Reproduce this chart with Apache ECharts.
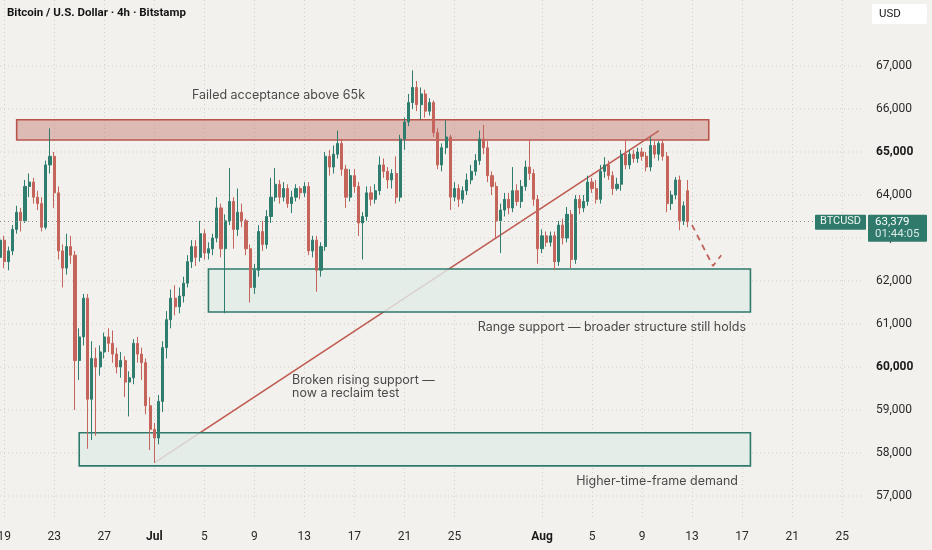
<!DOCTYPE html>
<html>
<head>
<meta charset="utf-8">
<script src="https://cdn.jsdelivr.net/npm/echarts@6/dist/echarts.min.js"></script>
<style>
  html, body { margin: 0; padding: 0; background: #f3f1ed; }
  #main { width: 932px; height: 550px; }
</style>
</head>
<body>
<div id="main"></div>
<script>
// 8h candles, first one at 2024-06-18 16:00 UTC
var candleOpen = [
	62550,62950,62450,62700,63200,63600,63400,64200,64300,63950,
	63800,63250,64700,64900,64050,62700,62300,62800,62600,60150,
	60700,61600,59250,60200,60000,60350,60700,60550,60300,60000,
	60150,59650,59750,60550,60300,60100,59100,58550,58350,59200,
	60450,61100,61600,61400,61650,61950,62450,62800,62550,63100,
	62650,62750,63000,63700,62750,63400,63850,63200,63600,63400,
	62750,61850,62250,63150,62850,63500,63950,64250,63950,64150,
	63800,63950,64150,64050,64200,62700,62950,62250,62800,64900,
	64650,64950,65200,64600,63950,64450,64200,63350,63500,64050,
	63900,64100,64700,64550,64350,64500,63950,65300,65700,66150,
	66500,66100,66350,65950,66150,65450,64700,65100,65350,63950,
	64150,63900,64100,64350,64550,64800,65300,65100,64450,64200,
	63400,63650,63900,63700,64100,63850,64200,64650,64500,63900,
	62750,63050,62900,63050,62450,63300,63000,63550,62500,63900,
	63700,63850,64300,64150,63900,64550,64700,64450,64150,64250,
	64950,64700,64950,64850,65000,64900,64650,65150,64950,65200,
	64900,63800,64000,64350,63400,64100
];
var candleClose = [
	62950,62450,62700,63200,63600,63400,64200,64300,63950,63800,
	63250,64700,64900,64050,62700,62300,62800,62600,60150,60700,
	61600,59250,60200,60000,60350,60700,60550,60300,60000,60150,
	59650,59750,60550,60300,60100,59100,58550,58350,59200,60450,
	61100,61600,61400,61650,61950,62450,62800,62550,63100,62650,
	62750,63000,63700,62750,63400,63850,63200,63600,63400,62750,
	61850,62250,63150,62850,63500,63950,64250,63950,64150,63800,
	63950,64150,64050,64200,62700,62950,62250,62800,64900,64650,
	64950,65200,64600,63950,64450,64200,63350,63500,64050,63900,
	64100,64700,64550,64350,64500,63950,65300,65700,66150,66500,
	66100,66350,65950,66150,65450,64700,65100,65350,63950,64150,
	63900,64100,64350,64550,64800,65300,65100,64450,64200,63400,
	63650,63900,63700,64100,63850,64200,64650,64500,63900,62750,
	63050,62900,63050,62450,63300,63000,63550,62500,63900,63700,
	63850,64300,64150,63900,64550,64700,64450,64150,64250,64950,
	64700,64950,64850,65000,64900,64650,65150,64950,65200,64900,
	63800,64000,64350,63400,63750,63379
];
var candleHigh = [
	63100,63050,62800,63300,63750,63700,64350,64500,64400,64100,
	63950,64800,65550,65000,64200,62850,63100,63050,62700,60900,
	61700,61700,60600,60450,60500,60800,60900,60850,60450,60350,
	60250,59900,60650,60700,60450,60200,59300,58700,59350,60600,
	61300,61800,61900,61850,62100,62600,62950,62950,63400,63200,
	62900,63100,63950,63800,63550,64630,63950,64150,63800,63450,
	62850,62400,63300,63400,63650,64400,64630,64350,64300,64250,
	64100,64250,64200,64300,64300,63050,63050,62900,65000,65050,
	65150,65500,65300,64700,64600,64600,64300,63600,64200,64200,
	64250,64900,64850,64650,64600,64900,65400,65800,66350,66900,
	66650,66500,66450,66250,66200,65550,65200,65740,65400,64300,
	64250,64200,64500,64700,64950,65500,65630,65250,64550,64300,
	63800,64050,64050,64650,64250,64350,64800,65280,64600,64000,
	63200,63150,63150,63150,63400,63450,63720,63650,64000,64000,
	64000,64450,64400,64350,64700,64880,64800,64550,64400,65050,
	65280,65050,65050,65100,65100,65000,65350,65250,65250,65300,
	65000,64100,64420,64450,63850,64350
];
var candleLow = [
	62350,62300,62250,62600,63100,63150,63350,63950,63800,63650,
	63150,63200,64500,63700,62500,61850,62150,62400,59000,59700,
	60500,58100,58300,58400,59800,60200,60350,60100,59850,59750,
	59300,58850,59600,60100,59700,58900,58070,57770,58200,58950,
	60200,60900,61200,61250,61500,61850,62300,62350,62450,62500,
	62500,62600,62900,62550,61250,63300,62750,63050,63250,62600,
	61500,61700,62100,62700,62750,63350,63850,63800,63850,63700,
	63580,63850,63900,63950,62600,62550,61750,62100,62700,64450,
	64500,64850,64450,63700,63850,64050,63050,62500,63400,63750,
	63800,64000,64400,64150,64150,63800,63850,65050,65600,66000,
	65950,65750,65800,65850,65350,64600,64550,64950,63650,63850,
	63720,63800,64000,64250,64450,64700,64950,64300,64000,63000,
	62650,63500,63550,63600,63750,63700,64100,64350,63750,62400,
	62650,62800,62800,62250,62350,62850,62900,62300,62400,63550,
	63600,63750,64050,63800,63800,64400,64350,64000,64100,64100,
	64600,64600,64750,64750,64800,64550,64550,64850,64800,64800,
	63600,63650,63900,63180,63300,63250
];

// tick labels on the date axis
var tickDates = ['06-19','06-23','06-27','07-01','07-05','07-09','07-13','07-17','07-21','07-25',
	'08-01','08-05','08-09','08-13','08-17','08-21','08-25'];
var tickTexts = ['19','23','27','Jul','5','9','13','17','21','25',
	'Aug','5','9','13','17','21','25'];
// price grid / labels
var priceTicks = [57000,58000,59000,60000,61000,62000,63000,64000,65000,66000,67000];

// zones: [fromCandle, toCandle, low, high]
var resistanceZone = [[4, 170, 65280, 65750]];
var supportZones = [[50, 180, 61280, 62280], [19, 180, 57700, 58470]];
// broken rising support and projected path: [candle index, price]
var trendLine = [[37, 57770], [158, 65490]];
var projection = [[166, 63300], [171, 62350], [173, 62600]];
var lastPrice = 63379;

var upColor = '#2e7d6e';
var downColor = '#c4645b';
var font = 'Inter, "Noto Sans", sans-serif';
var axisFont = 'Roboto, "Noto Sans", sans-serif';
var gridColor = '#d2cfc9';

var cats = [];
var start = Date.UTC(2024, 5, 18, 16);
function pad(n) { return n < 10 ? '0' + n : '' + n }
for (var i = 0; i < 208; i++) {
	var d = new Date(start + i * 8 * 3600 * 1000);
	cats.push(pad(d.getUTCMonth() + 1) + '-' + pad(d.getUTCDate()) + ' ' + pad(d.getUTCHours()));
}
function isTick(idx, val) {
	return val.slice(6) === '00' && tickDates.indexOf(val.slice(0, 5)) >= 0;
}

var ohlc = [];
for (var i = 0; i < candleClose.length; i++) {
	ohlc.push([candleOpen[i], candleClose[i], candleLow[i], candleHigh[i]]);
}
var hgrid = [];
for (var i = 0; i < priceTicks.length; i++) {
	hgrid.push([0, priceTicks[i]]);
}

function boxRender(fill, stroke) {
	return function (params, api) {
		var p1 = api.coord([api.value(0), api.value(3)]);
		var p2 = api.coord([api.value(1), api.value(2)]);
		return {
			type : 'rect',
			shape : { x : p1[0], y : p1[1], width : p2[0] - p1[0], height : p2[1] - p1[1] },
			style : { fill : fill, stroke : stroke, lineWidth : 1.6 }
		};
	};
}

var myChart = echarts.init(document.getElementById('main'));
var option = {
	backgroundColor : '#f3f1ed',
	animation : false,
	textStyle : { fontFamily : font },
	grid : { left : 0, right : 69, top : 0, bottom : 32.5, outerBoundsMode : 'none', containLabel : false },
	xAxis : {
		type : 'category',
		data : cats,
		boundaryGap : false,
		axisLine : { show : false },
		axisTick : { show : false, interval : isTick },
		axisLabel : {
			interval : isTick,
			margin : 13,
			color : '#2a2a2a',
			fontSize : 12,
			fontFamily : axisFont,
			formatter : function (val) {
				var t = tickTexts[tickDates.indexOf(val.slice(0, 5))];
				return (t === 'Jul' || t === 'Aug') ? '{b|' + t + '}' : t;
			},
			rich : { b : { fontWeight : 'bold', fontSize : 12, color : '#1a1a1a', fontFamily : axisFont } }
		},
		splitLine : {
			show : true,
			interval : isTick,
			lineStyle : { type : [1, 3], color : gridColor, width : 1 }
		}
	},
	yAxis : {
		type : 'value',
		position : 'right',
		min : 56500,
		max : 68535,
		splitNumber : 12,
		minInterval : 1000,
		maxInterval : 1000,
		axisLine : { show : false },
		axisTick : { show : false },
		splitLine : { show : false },
		axisLabel : {
			showMinLabel : false,
			showMaxLabel : false,
			margin : 13,
			color : '#2a2a2a',
			fontSize : 12,
			fontFamily : axisFont,
			formatter : function (v) {
				if (priceTicks.indexOf(v) < 0) return '';
				var s = String(v).replace(/\B(?=(\d{3})+(?!\d))/g, ',');
				return (v === 65000 || v === 60000) ? '{b|' + s + '}' : s;
			},
			rich : { b : { fontWeight : 'bold', fontSize : 12, color : '#1a1a1a', fontFamily : axisFont } }
		}
	},
	series : [ {
		type : 'custom',
		name : 'hgrid',
		z : 0,
		silent : true,
		data : hgrid,
		encode : { x : 0, y : 1 },
		renderItem : function (params, api) {
			var y = api.coord([0, api.value(1)])[1];
			var cs = params.coordSys;
			return {
				type : 'line',
				shape : { x1 : cs.x, y1 : y, x2 : cs.x + cs.width, y2 : y },
				style : { stroke : gridColor, lineWidth : 1, lineDash : [1, 3] }
			};
		}
	}, {
		type : 'line',
		name : 'trend',
		z : 1,
		data : trendLine,
		showSymbol : false,
		symbol : 'none',
		silent : true,
		lineStyle : { color : '#bf5a52', width : 1.6 }
	}, {
		type : 'custom',
		name : 'resistance',
		z : 2,
		silent : true,
		data : resistanceZone,
		encode : { x : [0, 1], y : [2, 3] },
		renderItem : boxRender('rgba(190, 110, 100, 0.42)', '#b9544d')
	}, {
		type : 'custom',
		name : 'support',
		z : 2,
		silent : true,
		data : supportZones,
		encode : { x : [0, 1], y : [2, 3] },
		renderItem : boxRender('rgba(226, 236, 232, 0.82)', '#2f7a6b')
	}, {
		type : 'candlestick',
		name : 'BTCUSD',
		z : 3,
		data : ohlc,
		barWidth : 2.6,
		itemStyle : {
			color : upColor,
			color0 : downColor,
			borderColor : upColor,
			borderColor0 : downColor,
			borderWidth : 1
		},
		markLine : {
			silent : true,
			symbol : 'none',
			label : { show : false },
			lineStyle : { type : [1, 3], color : '#8c8c8c', width : 1 },
			data : [ { yAxis : lastPrice } ]
		}
	}, {
		type : 'line',
		name : 'projection',
		z : 4,
		data : projection,
		showSymbol : false,
		symbol : 'none',
		silent : true,
		lineStyle : { color : '#c0605a', width : 1.8, type : [6, 5] }
	} ]
};
myChart.setOption(option);

// labels, header and price tags
var py = myChart.convertToPixel({ yAxisIndex : 0 }, lastPrice);
var txt = '#4a4a4a';
myChart.setOption({
	graphic : [
		{ type : 'text', z : 100, left : 7, top : 7,
			style : { text : 'Bitcoin / U.S. Dollar · 4h · Bitstamp', font : 'bold 11.5px ' + axisFont, fill : '#151515' } },
		{ type : 'rect', z : 100, shape : { x : 872, y : 4, width : 55, height : 20, r : 2 }, style : { fill : '#ffffff' } },
		{ type : 'text', z : 101, x : 879, y : 8, style : { text : 'USD', font : '11.5px ' + axisFont, fill : '#1a1a1a' } },
		{ type : 'text', z : 100, x : 192, y : 89, style : { text : 'Failed acceptance above 65k', font : '12.5px ' + font, fill : txt } },
		{ type : 'text', z : 100, x : 746, y : 321, style : { text : 'Range support — broader structure still holds', font : '12.5px ' + font, fill : txt, align : 'right' } },
		{ type : 'text', z : 100, x : 292, y : 374, style : { text : 'Broken rising support —\nnow a reclaim test', font : '12.5px ' + font, fill : txt, lineHeight : 12.5 } },
		{ type : 'text', z : 100, x : 738, y : 475, style : { text : 'Higher-time-frame demand', font : '12.5px ' + font, fill : txt, align : 'right' } },
		{ type : 'rect', z : 100, shape : { x : 815, y : py - 7, width : 51, height : 15, r : 1 }, style : { fill : '#2f7a6b' } },
		{ type : 'text', z : 101, x : 840.5, y : py - 5.5, style : { text : 'BTCUSD', font : '11px ' + axisFont, fill : '#eef5f2', align : 'center' } },
		{ type : 'rect', z : 100, shape : { x : 868, y : py - 7, width : 59, height : 27, r : 1 }, style : { fill : '#2f7a6b' } },
		{ type : 'text', z : 101, x : 875, y : py - 6, style : { text : '63,379', font : '11.5px ' + axisFont, fill : '#ffffff' } },
		{ type : 'text', z : 101, x : 875, y : py + 6.5, style : { text : '01:44:05', font : '11.5px ' + axisFont, fill : '#d8e8e3' } }
	]
});
</script>
</body>
</html>
